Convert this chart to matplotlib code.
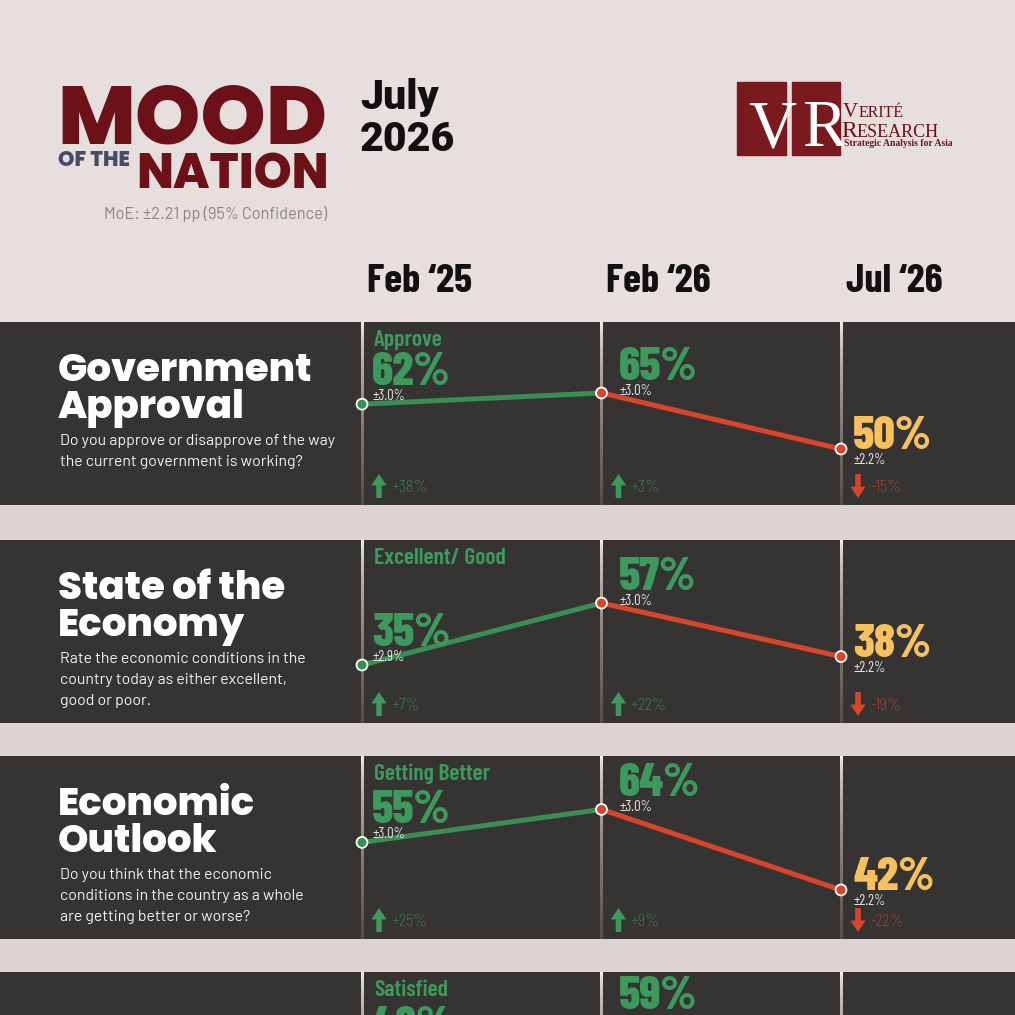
import numpy as np
import matplotlib
matplotlib.use('Agg')
import matplotlib.pyplot as plt
from matplotlib.patches import Rectangle
from matplotlib.transforms import offset_copy, blended_transform_factory

W = 1015  # canvas size in px (dpi 100)

# ---- data ----
waves = ['Feb \u201825', 'Feb \u201826', 'Jul \u201826']
titles = [['Government', 'Approval'], ['State of the', 'Economy'], ['Economic', 'Outlook'], []]
questions = [
    ['Do you approve or disapprove of the way', 'the current government is working?'],
    ['Rate the economic conditions in the', 'country today as either excellent,', 'good or poor.'],
    ['Do you think that the economic', 'conditions in the country as a whole', 'are getting better or worse?'],
    [],
]
answer_labels = ['Approve', 'Excellent/ Good', 'Getting Better', 'Satisfied']

approval = [62, 65, 50]
economy = [35, 57, 38]
outlook = [55, 64, 42]
satisfied = [48, 59, np.nan]  # last panel is cut off at the bottom

moe_approval = [3.0, 3.0, 2.2]
moe_economy = [2.9, 3.0, 2.2]
moe_outlook = [3.0, 3.0, 2.2]
moe_satisfied = [np.nan, np.nan, np.nan]

change_approval = [38, 3, -15]
change_economy = [7, 22, -19]
change_outlook = [25, 9, -22]
change_satisfied = [np.nan, np.nan, np.nan]

series = [approval, economy, outlook, satisfied]
moes = [moe_approval, moe_economy, moe_outlook, moe_satisfied]
changes = [change_approval, change_economy, change_outlook, change_satisfied]

# ---- styling ----
BG = '#E7DEDE'
GAP = '#DDD3D3'
PANEL = '#353433'
MAROON = '#6B1117'
GREEN = '#3D9A5C'
GREEN_LINE = '#3A8E55'
RED = '#D9452A'
YELLOW = '#F7C15E'

HEAVY = ['Poppins', 'Lato', 'DejaVu Sans']
COND = ['Barlow Condensed', 'DejaVu Sans']
BODY = ['Barlow', 'DejaVu Sans']
DATE = ['Roboto', 'Inter', 'DejaVu Sans']
SERIF = ['Liberation Serif', 'DejaVu Serif']

panel_tops = [322, 540, 756, 972]
panel_h = 183
# per-panel y scale (each strip has its own vertical scale in the original)
y_ranges = [(35.0, 84.0), (14.4, 79.4), (28.6, 78.6), (18.7, 74.2)]
col_offsets = [(10, 19), (17, 13), (12, 0)]  # px offsets of the % labels from each point
pct_colors = [GREEN, GREEN, YELLOW]


def pt(p):
    return p * 0.72


def fy(y):
    return 1 - y / W


fig = plt.figure(figsize=(W / 100, W / 100), dpi=100)
fig.patch.set_facecolor(BG)
renderer = fig.canvas.get_renderer()


def fit_width(t, width_px):
    w = t.get_window_extent(renderer).width
    t.set_fontsize(t.get_fontsize() * width_px / w)
    return t.get_fontsize()


# ---- header ----
t = fig.text(57 / W, fy(143), 'MOOD', family=HEAVY, weight='heavy', color=MAROON, fontsize=60)
fit_width(t, 270)
t = fig.text(58 / W, fy(166), 'OF THE', family=HEAVY, weight='heavy', color='#464B66', fontsize=10)
fit_width(t, 72)
t = fig.text(136 / W, fy(188), 'NATION', family=HEAVY, weight='heavy', color=MAROON, fontsize=36)
fit_width(t, 192)
t = fig.text(327 / W, fy(219), 'MoE: \u00b12.21 pp (95% Confidence)', family=BODY,
             color='#8A8484', fontsize=11, ha='right')
fit_width(t, 224)

t = fig.text(360 / W, fy(109), 'July', family=DATE, weight='black', color='#111111', fontsize=30)
fs = fit_width(fig.text(360 / W, fy(151), '2026', family=DATE, weight='black', color='#111111',
                        fontsize=30), 95)
t.set_fontsize(fs)

# logo
fig.add_artist(Rectangle((737 / W, fy(155)), 49 / W, 73 / W, transform=fig.transFigure,
                         color='#7A1A1E'))
fig.add_artist(Rectangle((792 / W, fy(155)), 48 / W, 73 / W, transform=fig.transFigure,
                         color='#7A1A1E'))
fig.text(772 / W, fy(146), 'V', family=SERIF, color='white', fontsize=48, ha='center')
fig.text(824 / W, fy(146), 'R', family=SERIF, color='white', fontsize=48, ha='center')
t = fig.text(843 / W, fy(117), 'V', family=SERIF, color=MAROON, fontsize=15)
x1 = t.get_window_extent(renderer).x1
fig.text(x1 / W, fy(117), 'ERIT\u00c9', family=SERIF, color=MAROON, fontsize=11.5)
t = fig.text(841 / W, fy(137), 'R', family=SERIF, color=MAROON, fontsize=17)
x1 = t.get_window_extent(renderer).x1
fig.text(x1 / W, fy(137), 'ESEARCH', family=SERIF, color=MAROON, fontsize=13)
t = fig.text(844 / W, fy(146), 'Strategic Analysis for Asia', family=SERIF, weight='bold',
             color=MAROON, fontsize=6)
fit_width(t, 109)

# gaps between panels
for top in panel_tops[1:]:
    fig.add_artist(Rectangle((0, fy(top)), 1, 35 / W, transform=fig.transFigure, color=GAP,
                             zorder=0))

# ---- panels ----
xlim = (-362 / 239.5, (W - 362) / 239.5)
cols = np.arange(3)
title_fs = None
desc_fs = None
axes = []
top_c = np.array(matplotlib.colors.to_rgb('#F6F2EC'))
bot_c = np.array(matplotlib.colors.to_rgb('#554D46'))
mix = (np.linspace(0, 1, 120) ** 0.6)[:, None]
grad = (top_c * (1 - mix) + bot_c * mix)[:, None, :]
half_w = 1.1 / 239.5  # divider half-width in column units

for i, top in enumerate(panel_tops):
    ax = fig.add_axes([0, fy(top + panel_h), 1, panel_h / W])
    ax.axis('off')
    ax.add_patch(Rectangle((0, 0), 1, 1, transform=ax.transAxes, color=PANEL, zorder=0))
    ylo, yhi = y_ranges[i]
    axes.append(ax)

    # dividers with fading gradient
    for c in cols:
        ax.imshow(grad, extent=(c - half_w, c + half_w, ylo, yhi), aspect='auto',
                  interpolation='bilinear', zorder=1)
    ax.set_xlim(*xlim)
    ax.set_ylim(ylo, yhi)

    vals = series[i]
    ax.plot(cols[:2], vals[:2], color=GREEN_LINE, lw=3.6, solid_capstyle='butt', zorder=3)
    ax.plot(cols[1:], vals[1:], color=RED, lw=3.6, solid_capstyle='butt', zorder=3)
    ax.scatter(cols, vals, s=62, c=[GREEN_LINE, RED, RED], edgecolors='white',
               linewidths=1.3, zorder=4, clip_on=False)

    # answer label at top of first column
    ax.text(0, 1, answer_labels[i], family=COND, weight='semibold', color=GREEN, fontsize=17,
            transform=offset_copy(ax.get_xaxis_transform(), fig, x=pt(12), y=-pt(24),
                                  units='points'))

    for c in cols:
        v = vals[c]
        if np.isnan(v):
            continue
        dx, dy = col_offsets[c]
        ax.annotate(f'{v:.0f}%', xy=(c, v), xytext=(pt(dx), pt(dy)), textcoords='offset points',
                    family=COND, weight=800, color=pct_colors[c], fontsize=34,
                    va='baseline', annotation_clip=False)
        m = moes[i][c]
        if not np.isnan(m):
            ax.annotate(f'\u00b1{m:.1f}%', xy=(c, v), xytext=(pt(dx + 1), pt(dy - 4)),
                        textcoords='offset points', family=COND, color='#E8E6E3',
                        fontsize=10.5, va='top', annotation_clip=False)
        ch = changes[i][c]
        if not np.isnan(ch):
            up = ch > 0
            col = GREEN if up else RED
            tr = offset_copy(ax.get_xaxis_transform(), fig, x=pt(17), units='points')
            y_lo, y_hi = 7 / panel_h, 31 / panel_h
            tip, tail = (y_hi, y_lo) if up else (y_lo, y_hi)
            ax.annotate('', xy=(c, tip), xytext=(c, tail), xycoords=tr, textcoords=tr,
                        arrowprops=dict(arrowstyle='simple,head_length=0.75,head_width=1.0,tail_width=0.36',
                                        fc=col, ec='none', shrinkA=0, shrinkB=0, mutation_scale=11))
            trt = offset_copy(ax.get_xaxis_transform(), fig, x=pt(29), units='points')
            ax.text(c, 17 / panel_h, f'{ch:+.0f}%', transform=trt, family=COND, weight='light',
                    color=col, fontsize=13, va='center')

    # title and question on the left
    for k, line in enumerate(titles[i]):
        t = ax.text(58 / W, 1 - (59 + 37 * k) / panel_h, line, transform=ax.transAxes,
                    family=HEAVY, weight='heavy', color='white', fontsize=30)
        if title_fs is None:
            title_fs = fit_width(t, 255)
        t.set_fontsize(title_fs)
    for k, line in enumerate(questions[i]):
        t = ax.text(60 / W, 1 - (123 + 21 * k) / panel_h, line, transform=ax.transAxes,
                    family=BODY, color='#F4F2F0', fontsize=11)
        if desc_fs is None:
            desc_fs = fit_width(t, 277)
        t.set_fontsize(desc_fs)

# column headers
htr = offset_copy(blended_transform_factory(axes[0].transData, fig.transFigure), fig, x=pt(5),
                  units='points')
for c, lab in zip(cols, waves):
    t = fig.text(c, fy(292), lab, transform=htr, family=COND, weight='bold', color='#111111',
                 fontsize=31)
    fit_width(t, 105 if c < 2 else 97)

fig.savefig('out.png', dpi=100, facecolor=BG)
